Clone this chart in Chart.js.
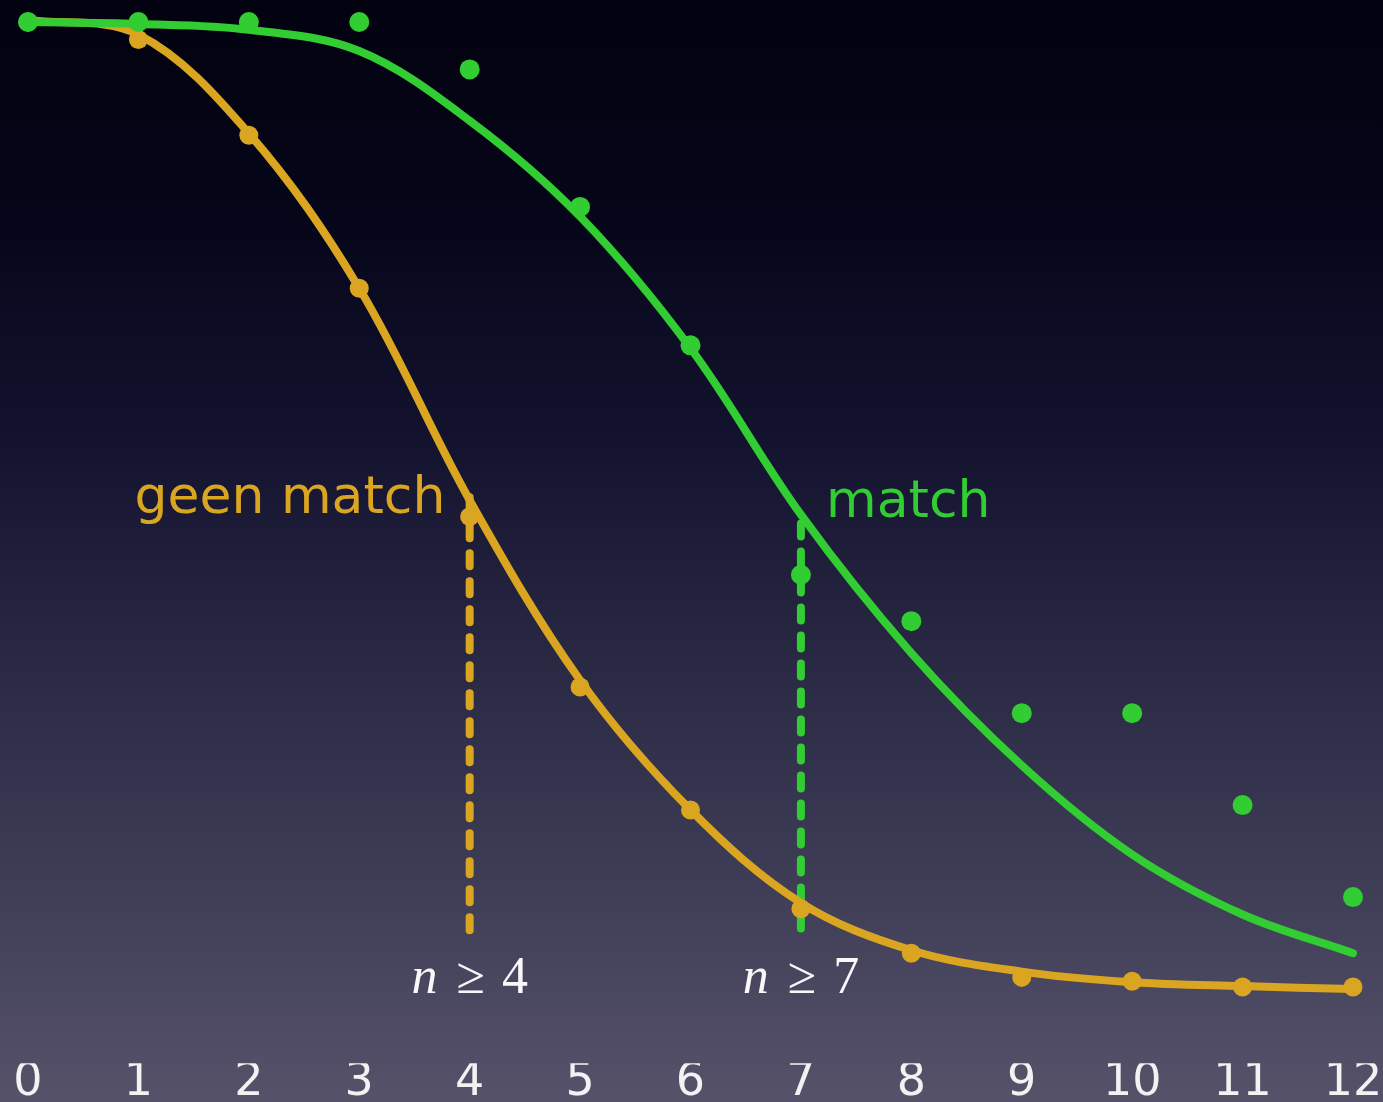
<!DOCTYPE html>
<html>
<head>
<meta charset="utf-8">
<script src="https://cdn.jsdelivr.net/npm/chart.js@4"></script>
<style>
  html, body { margin: 0; padding: 0; }
  body {
    width: 1383px;
    height: 1102px;
    overflow: hidden;
    background: linear-gradient(to bottom, #020210 0%, #06061a 20%, #13132f 40%, #292944 60%, #3f3d56 80%, #55526a 100%);
  }
  #wrap { width: 1383px; height: 1102px; position: relative; }
</style>
</head>
<body>
<div id="wrap"><canvas id="chart"></canvas></div>
<script>
const xValues = [0, 1, 2, 3, 4, 5, 6, 7, 8, 9, 10, 11, 12];
const tickLabels = ["0", "1", "2", "3", "4", "5", "6", "7", "8", "9", "10", "11", "12"];

// measured points
const matchDots = [1.0, 1.0, 1.0, 1.0, 0.951, 0.809, 0.666, 0.429, 0.381, 0.286, 0.286, 0.191, 0.096];
const noMatchDots = [1.0, 0.982, 0.883, 0.725, 0.489, 0.313, 0.186, 0.084, 0.038, 0.013, 0.009, 0.003, 0.003];

// fitted curves
const matchFit = [1.0, 0.998, 0.992, 0.970, 0.898, 0.799, 0.663, 0.491, 0.348, 0.232, 0.140, 0.078, 0.038];
const noMatchFit = [1.002, 0.987, 0.885, 0.725, 0.506, 0.320, 0.186, 0.090, 0.041, 0.019, 0.008, 0.004, 0.001];

// cut-off markers
const cutoffX = [4, 7];
const cutoffTop = [0.509, 0.482];
const cutoffBottom = 0.055;
const cutoffText = ["4", "7"];

const green = "#32cd32";
const orange = "#daa520";

const toPoints = (ys) => xValues.map((x, i) => ({ x: x, y: ys[i] }));
const cutoffLine = (i) => [
  { x: cutoffX[i], y: cutoffTop[i] },
  { x: cutoffX[i], y: cutoffBottom },
];

const labelsPlugin = {
  id: "labels",
  afterDatasetsDraw(chart) {
    const { ctx, scales } = chart;
    const x = scales.x;
    const y = scales.y;
    ctx.save();
    ctx.textBaseline = "alphabetic";
    ctx.font = "52px 'DejaVu Sans'";
    ctx.fillStyle = orange;
    ctx.textAlign = "right";
    ctx.fillText("geen match", x.getPixelForValue(3.78), y.getPixelForValue(0.493));
    ctx.fillStyle = green;
    ctx.textAlign = "left";
    ctx.fillText("match", x.getPixelForValue(7.227), y.getPixelForValue(0.489));

    // n ≥ k labels
    ctx.fillStyle = "#f8f8f8";
    ctx.textAlign = "left";
    cutoffX.forEach((cx, i) => {
      const italic = "italic 52px 'Liberation Serif'";
      const upright = "52px 'Liberation Serif'";
      ctx.font = italic;
      const wn = ctx.measureText("n").width;
      ctx.font = upright;
      const wg = ctx.measureText("≥").width;
      const wd = ctx.measureText(cutoffText[i]).width;
      const total = wn + 19 + wg + 17 + wd;
      let px = x.getPixelForValue(cx) - total / 2;
      const py = y.getPixelForValue(-0.003);
      ctx.font = italic;
      ctx.fillText("n", px, py);
      px += wn + 19;
      ctx.font = upright;
      ctx.fillText("≥", px, py);
      px += wg + 17;
      ctx.fillText(cutoffText[i], px, py);
    });
    ctx.restore();
  },
};

new Chart(document.getElementById("chart"), {
  type: "scatter",
  data: {
    datasets: [
      {
        label: "match",
        data: toPoints(matchDots),
        backgroundColor: green,
        borderColor: green,
        pointRadius: 10,
        pointBorderWidth: 0,
        showLine: false,
        clip: false,
      },
      {
        label: "match fit",
        data: toPoints(matchFit),
        borderColor: green,
        borderWidth: 8,
        pointRadius: 0,
        showLine: true,
        tension: 0.35,
        borderCapStyle: "round",
        clip: false,
      },
      {
        label: "geen match",
        data: toPoints(noMatchDots),
        backgroundColor: orange,
        borderColor: orange,
        pointRadius: 9.5,
        pointBorderWidth: 0,
        showLine: false,
        clip: false,
      },
      {
        label: "n >= 4",
        data: cutoffLine(0),
        borderColor: orange,
        borderWidth: 8,
        borderDash: [13, 15],
        borderCapStyle: "round",
        pointRadius: 0,
        showLine: true,
        clip: false,
      },
      {
        label: "geen match fit",
        data: toPoints(noMatchFit),
        borderColor: orange,
        borderWidth: 8,
        pointRadius: 0,
        showLine: true,
        tension: 0.35,
        borderCapStyle: "round",
        clip: false,
      },
      {
        label: "n >= 7",
        data: cutoffLine(1),
        borderColor: green,
        borderWidth: 8,
        borderDash: [13, 15],
        borderCapStyle: "round",
        pointRadius: 0,
        showLine: true,
        clip: false,
      },
    ],
  },
  options: {
    responsive: true,
    maintainAspectRatio: false,
    animation: false,
    layout: {
      padding: { left: 28, right: 30, top: 22, bottom: 0 },
    },
    plugins: {
      legend: { display: false },
      tooltip: { enabled: false },
    },
    scales: {
      x: {
        type: "linear",
        min: 0,
        max: 12,
        grid: { display: false, drawTicks: false },
        border: { display: false },
        ticks: {
          stepSize: 1,
          padding: 0,
          color: "#f2f2f2",
          font: { family: "'DejaVu Sans'", size: 46, lineHeight: 0.84 },
          callback: (v) => tickLabels[v],
          maxRotation: 0,
          autoSkip: false,
        },
      },
      y: {
        display: false,
        min: -0.0758,
        max: 1.0,
      },
    },
  },
  plugins: [labelsPlugin],
});
</script>
</body>
</html>
